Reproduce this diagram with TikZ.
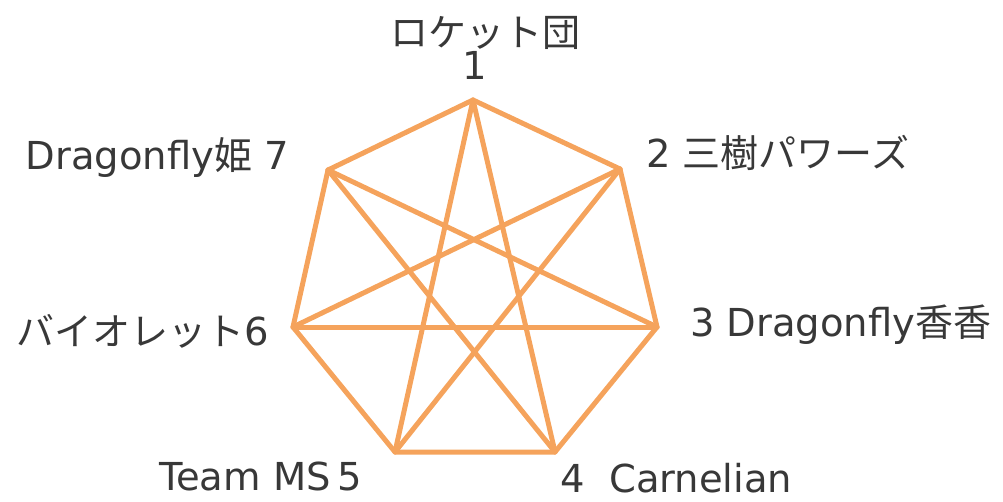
\documentclass[tikz,border=0pt]{standalone}
\usepackage{fontspec}
\setmainfont{DejaVu Sans}
\newfontfamily\jpfont{Noto Sans CJK JP}
\newcommand{\jp}[1]{{\jpfont\fontsize{38}{44}\selectfont #1}}
\definecolor{starorange}{HTML}{F5A35C}
\definecolor{labelgray}{HTML}{383838}
\begin{document}
\begin{tikzpicture}[x=1pt,y=-1pt,
  edge/.style={draw=starorange, line width=5pt, line join=round, line cap=round},
  lbl/.style={text=labelgray, font=\fontsize{38.5}{44}\selectfont, inner sep=0pt}]
\useasboundingbox (0,0) rectangle (1003,502);
\coordinate (v1) at (473,100);
\coordinate (v2) at (620,169);
\coordinate (v3) at (657,327);
\coordinate (v4) at (555,452);
\coordinate (v5) at (395,452);
\coordinate (v6) at (293,327);
\coordinate (v7) at (328,170);
% heptagon
\draw[edge] (v1) -- (v2) -- (v3) -- (v4) -- (v5) -- (v6) -- (v7) -- cycle;
% heptagram
\draw[edge] (v1) -- (v4);
\draw[edge] (v1) -- (v5);
\draw[edge] (v2) -- (v5);
\draw[edge] (v2) -- (v6);
\draw[edge] (v3) -- (v6);
\draw[edge] (v3) -- (v7);
\draw[edge] (v4) -- (v7);
% labels
\node[lbl, anchor=center] (t1) at (485,33) {\jp{ロケット団}};
\node[lbl, anchor=base] (n1) at (475,80) {1};
\node[lbl, anchor=base east] (t7) at (289,170) {Dragonfly\jp{姫} 7};
\node[lbl, anchor=base west] (t2) at (646,168) {2 \jp{三樹パワーズ}};
\node[lbl, anchor=base east] (t6) at (269,345) {\jp{バイオレット}6};
\node[lbl, anchor=base west] (t3) at (690,337) {3 Dragonfly\jp{香香}};
\node[lbl, anchor=base east] (t5) at (362,490) {Team MS\,5};
\node[lbl, anchor=base west] (t4) at (560,492) {4 \ Carnelian};
\end{tikzpicture}
\end{document}
